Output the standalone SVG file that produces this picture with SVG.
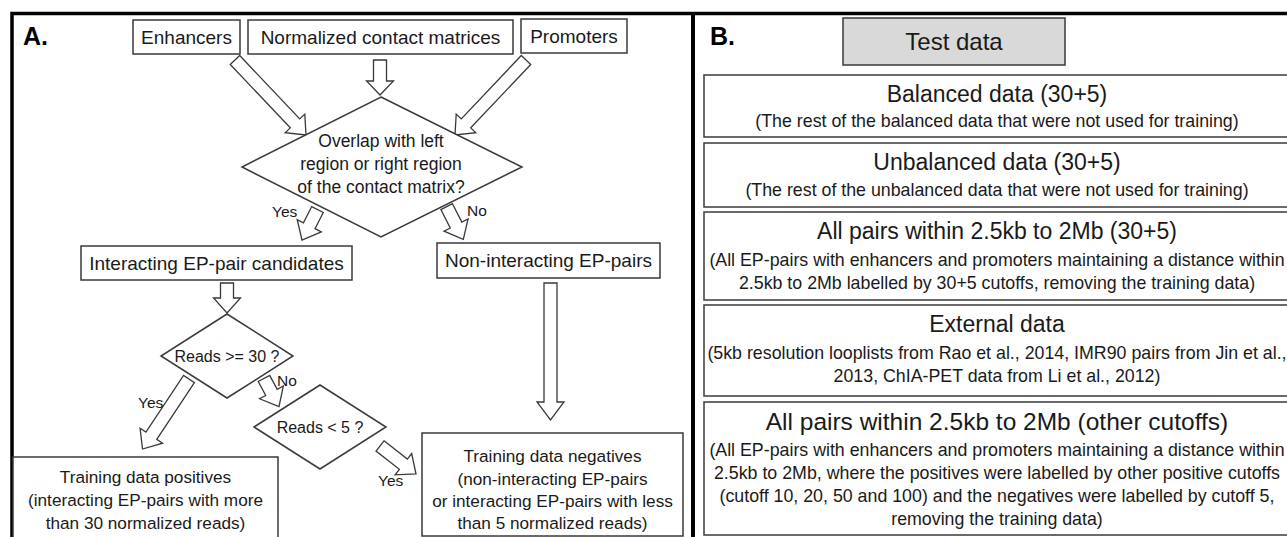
<svg xmlns="http://www.w3.org/2000/svg" width="1287" height="537" viewBox="0 0 1287 537">
<style>
.frame{fill:none;stroke:#000;stroke-width:3.5}
.box{fill:#fff;stroke:#3a3a3a;stroke-width:1.5}
.gray{fill:#d9d9d9;stroke:#3a3a3a;stroke-width:1.5}
.dia{fill:#fff;stroke:#3a3a3a;stroke-width:1.5}
.arr{fill:#fff;stroke:#3a3a3a;stroke-width:1.3;stroke-linejoin:miter}
text{font-family:"Liberation Sans",Arial,sans-serif;fill:#1a1a1a}
.c{text-anchor:middle}
.lab{font-size:25px;font-weight:bold;fill:#000}
.bx{font-size:19px}
.dt{font-size:17.5px}
.rd{font-size:16px}
.yn{font-size:15.5px}
.bt{font-size:17.2px}
.ti{font-size:23px}
.tl{font-size:24.5px}
.st{font-size:17.8px}
.td{font-size:24px}
</style>
<rect x="0" y="0" width="1287" height="537" fill="#fff"/>
<g id="frames">
<path class="frame" d="M12,537 V13.5 H1290"/>
<line x1="693" y1="12" x2="693" y2="537" stroke="#000" stroke-width="4"/>
</g>
<text class="lab" x="23" y="45">A.</text>
<text class="lab" x="710" y="45">B.</text>

<g id="connectors">
<polygon class="arr" points="-103.3,-6.5 -16,-6.5 -16,-13.5 0,0 -16,13.5 -16,6.5 -103.3,6.5" transform="translate(306,135) rotate(46.57)"/>
<polygon class="arr" points="-35,-6.5 -14,-6.5 -14,-13.5 0,0 -14,13.5 -14,6.5 -35,6.5" transform="translate(380,95) rotate(90)"/>
<polygon class="arr" points="-103.3,-6.5 -16,-6.5 -16,-13.5 0,0 -16,13.5 -16,6.5 -103.3,6.5" transform="translate(455,135) rotate(133.43)"/>
<polygon class="arr" points="-34.2,-6.5 -16,-6.5 -16,-13.5 0,0 -16,13.5 -16,6.5 -34.2,6.5" transform="translate(302,240) rotate(116.94)"/>
<polygon class="arr" points="-36.6,-6.5 -16,-6.5 -16,-13.5 0,0 -16,13.5 -16,6.5 -36.6,6.5" transform="translate(463.3,239.3) rotate(63)"/>
<polygon class="arr" points="-30,-6.5 -15,-6.5 -15,-13.5 0,0 -15,13.5 -15,6.5 -30,6.5" transform="translate(227,313) rotate(90)"/>
<polygon class="arr" points="-84,-6.5 -16,-6.5 -16,-13.5 0,0 -16,13.5 -16,6.5 -84,6.5" transform="translate(142.5,449) rotate(123.6)"/>
<polygon class="arr" points="-31.8,-6.5 -16,-6.5 -16,-13.5 0,0 -16,13.5 -16,6.5 -31.8,6.5" transform="translate(279,406.5) rotate(61.8)"/>
<polygon class="arr" points="-45.6,-6.5 -16,-6.5 -16,-13.5 0,0 -16,13.5 -16,6.5 -45.6,6.5" transform="translate(416,474) rotate(37.9)"/>
<polygon class="arr" points="-137,-6.5 -18,-6.5 -18,-13.5 0,0 -18,13.5 -18,6.5 -137,6.5" transform="translate(550.5,420) rotate(90)"/>
<text class="yn" x="272" y="217">Yes</text>
<text class="yn" x="467" y="216">No</text>
<text class="yn" x="138" y="408">Yes</text>
<text class="yn" x="277" y="386">No</text>
<text class="yn" x="378" y="486">Yes</text>
</g>

<g id="enhancers">
<rect class="box" x="133" y="20" width="107" height="34"/>
<text class="bx c" x="186.5" y="43.5">Enhancers</text>
</g>
<g id="matrices">
<rect class="box" x="248" y="20" width="265" height="34"/>
<text class="bx c" x="380.5" y="43.5">Normalized contact matrices</text>
</g>
<g id="promoters">
<rect class="box" x="521" y="19" width="106" height="34"/>
<text class="bx c" x="574" y="42.5">Promoters</text>
</g>
<g id="overlap">
<polygon class="dia" points="381,97 522,167 381,237 242,167"/>
<text class="dt c" x="381" y="147">Overlap with left</text>
<text class="dt c" x="381" y="170">region or right region</text>
<text class="dt c" x="381" y="193">of the contact matrix?</text>
</g>
<g id="interacting">
<rect class="box" x="81" y="246" width="271" height="34"/>
<text class="bx c" x="216.5" y="269.5">Interacting EP-pair candidates</text>
</g>
<g id="noninteracting">
<rect class="box" x="437" y="243" width="223" height="35"/>
<text class="bx c" x="548.5" y="267">Non-interacting EP-pairs</text>
</g>
<g id="reads30">
<polygon class="dia" points="227,314 293,356 227,398 161,356"/>
<text class="rd c" x="227" y="362">Reads &gt;= 30 ?</text>
</g>
<g id="reads5">
<polygon class="dia" points="320,385 386,427 320,469 254,427"/>
<text class="rd c" x="320" y="432.5">Reads &lt; 5 ?</text>
</g>
<g id="positives">
<rect class="box" x="13" y="457" width="265" height="82"/>
<text class="bt c" x="145.5" y="483">Training data positives</text>
<text class="bt c" x="145.5" y="506">(interacting EP-pairs with more</text>
<text class="bt c" x="145.5" y="529">than 30 normalized reads)</text>
</g>
<g id="negatives">
<rect class="box" x="422" y="433" width="261" height="103"/>
<text class="bt c" x="552.5" y="462">Training data negatives</text>
<text class="bt c" x="552.5" y="485">(non-interacting EP-pairs</text>
<text class="bt c" x="552.5" y="507">or interacting EP-pairs with less</text>
<text class="bt c" x="552.5" y="529">than 5 normalized reads)</text>
</g>

<g id="testdata">
<rect class="gray" x="843" y="18" width="222" height="47"/>
<text class="td c" x="954" y="50">Test data</text>
</g>
<g id="balanced">
<rect class="box" x="704" y="75" width="600" height="62"/>
<text class="ti c" x="997" y="102">Balanced data (30+5)</text>
<text class="st c" x="997" y="127">(The rest of the balanced data that were not used for training)</text>
</g>
<g id="unbalanced">
<rect class="box" x="704" y="143" width="600" height="64"/>
<text class="ti c" x="997" y="170">Unbalanced data (30+5)</text>
<text class="st c" x="997" y="196">(The rest of the unbalanced data that were not used for training)</text>
</g>
<g id="allpairs305">
<rect class="box" x="704" y="212" width="600" height="88"/>
<text class="ti c" x="997" y="239">All pairs within 2.5kb to 2Mb (30+5)</text>
<text class="st c" x="997" y="266">(All EP-pairs with enhancers and promoters maintaining a distance within</text>
<text class="st c" x="997" y="289">2.5kb to 2Mb labelled by 30+5 cutoffs, removing the training data)</text>
</g>
<g id="external">
<rect class="box" x="704" y="305" width="600" height="91"/>
<text class="ti c" x="997" y="332">External data</text>
<text class="st c" x="997" y="359">(5kb resolution looplists from Rao et al., 2014, IMR90 pairs from Jin et al.,</text>
<text class="st c" x="997" y="382">2013, ChIA-PET data from Li et al., 2012)</text>
</g>
<g id="allpairsother">
<rect class="box" x="704" y="402" width="600" height="133"/>
<text class="tl c" x="997" y="430">All pairs within 2.5kb to 2Mb (other cutoffs)</text>
<text class="st c" x="997" y="456">(All EP-pairs with enhancers and promoters maintaining a distance within</text>
<text class="st c" x="997" y="479">2.5kb to 2Mb, where the positives were labelled by other positive cutoffs</text>
<text class="st c" x="997" y="502">(cutoff 10, 20, 50 and 100) and the negatives were labelled by cutoff 5,</text>
<text class="st c" x="997" y="525">removing the training data)</text>
</g>
</svg>
